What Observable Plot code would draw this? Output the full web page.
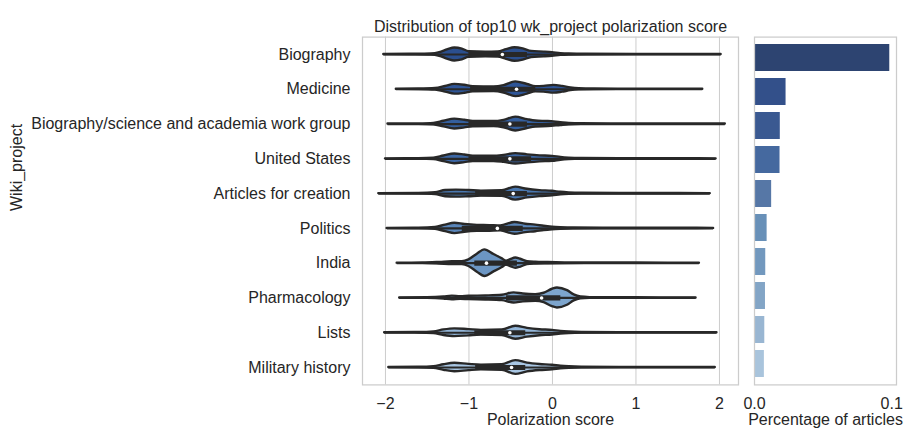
<!DOCTYPE html>
<html>
<head>
<meta charset="utf-8">
<script src="https://cdn.jsdelivr.net/npm/d3@7"></script>
<script src="https://cdn.jsdelivr.net/npm/@observablehq/plot@0.6"></script>
<style>
  html, body { margin: 0; padding: 0; background: white; }
  #chart { display: flex; width: 904px; height: 430px; }
  #chart svg { display: block; }
</style>
</head>
<body>
<div id="chart"></div>
<script>
// ---------- data ----------
const projects = ["Biography", "Medicine", "Biography/science and academia work group", "United States",
  "Articles for creation", "Politics", "India", "Pharmacology", "Lists", "Military history"];
const shares = [0.0986, 0.0230, 0.0188, 0.0186, 0.0125, 0.0092, 0.0082, 0.0080, 0.0075, 0.0072];
const medians = [-0.60, -0.43, -0.51, -0.51, -0.47, -0.66, -0.79, -0.13, -0.51, -0.49];
const q1s = [-1.00, -0.98, -1.00, -1.00, -0.92, -1.08, -0.93, -0.55, -0.93, -0.92];
const q3s = [-0.30, -0.20, -0.30, -0.25, -0.30, -0.35, -0.42, 0.10, -0.32, -0.32];
const mins = [-2.02, -1.87, -1.97, -2.00, -2.08, -1.98, -1.86, -1.83, -2.01, -1.96];
const maxs = [2.02, 1.80, 2.07, 1.96, 1.89, 1.93, 1.76, 1.72, 1.97, 1.95];
// violin density profiles: [score, density]
const violinKnots = [
  [[-2.02,0],[-1.7,0.2],[-1.45,0.5],[-1.35,1.8],[-1.25,4.9],[-1.17,6.5],[-1.08,5.4],[-1.0,2.8],[-0.8,2.4],[-0.65,2.6],[-0.55,4.8],[-0.45,6.8],[-0.35,5.6],[-0.25,3.1],[-0.1,2.4],[0.0,1.8],[0.1,0.9],[0.2,0.45],[0.4,0.2],[1.0,0.12],[1.6,0.12],[2.02,0]],
  [[-1.87,0],[-1.6,0.2],[-1.4,0.8],[-1.28,2.8],[-1.17,4.9],[-1.05,4.0],[-0.95,2.6],[-0.7,2.4],[-0.58,3.7],[-0.44,7.4],[-0.3,4.8],[-0.2,2.6],[-0.1,2.9],[0.02,3.9],[0.12,2.9],[0.22,1.4],[0.32,0.6],[0.5,0.25],[1.0,0.12],[1.5,0.12],[1.80,0]],
  [[-1.97,0],[-1.6,0.2],[-1.42,0.7],[-1.3,2.8],[-1.17,4.9],[-1.05,3.8],[-0.95,2.7],[-0.7,2.5],[-0.58,3.7],[-0.44,6.9],[-0.3,4.4],[-0.2,3.0],[-0.05,2.5],[0.1,1.4],[0.2,0.7],[0.35,0.3],[0.7,0.15],[1.5,0.12],[2.07,0]],
  [[-2.0,0],[-1.6,0.2],[-1.42,0.7],[-1.3,2.8],[-1.17,4.9],[-1.05,3.8],[-0.95,2.7],[-0.7,2.6],[-0.58,3.5],[-0.44,5.2],[-0.3,4.0],[-0.15,3.0],[0.0,2.5],[0.1,1.4],[0.2,0.7],[0.35,0.3],[0.8,0.15],[1.5,0.12],[1.96,0]],
  [[-2.08,0],[-1.6,0.2],[-1.4,1.0],[-1.28,3.1],[-1.15,3.5],[-1.0,3.1],[-0.85,2.5],[-0.6,2.8],[-0.44,6.5],[-0.3,4.3],[-0.15,3.0],[0.0,2.3],[0.1,1.3],[0.2,0.7],[0.35,0.3],[0.8,0.15],[1.5,0.12],[1.89,0]],
  [[-1.98,0],[-1.6,0.2],[-1.4,1.0],[-1.28,3.3],[-1.17,5.2],[-1.05,3.9],[-0.9,3.0],[-0.75,2.8],[-0.62,2.4],[-0.45,5.9],[-0.32,4.2],[-0.2,3.3],[-0.1,2.1],[0.0,1.3],[0.1,0.8],[0.25,0.35],[0.6,0.15],[1.5,0.12],[1.93,0]],
  [[-1.86,0],[-1.55,0.2],[-1.35,0.8],[-1.2,1.4],[-1.08,1.5],[-1.0,3.3],[-0.9,9.0],[-0.81,13.3],[-0.7,8.7],[-0.6,4.3],[-0.55,1.9],[-0.5,3.5],[-0.44,5.1],[-0.38,3.9],[-0.3,1.5],[-0.2,0.9],[-0.05,0.6],[0.15,0.3],[0.4,0.15],[1.0,0.12],[1.76,0]],
  [[-1.83,0],[-1.5,0.25],[-1.3,1.0],[-1.2,1.8],[-1.1,1.3],[-1.0,1.7],[-0.8,2.0],[-0.6,2.7],[-0.46,5.1],[-0.35,3.9],[-0.2,3.3],[-0.1,4.7],[0.0,8.7],[0.06,10.0],[0.18,7.3],[0.26,3.0],[0.34,0.9],[0.45,0.35],[0.7,0.15],[1.3,0.12],[1.72,0]],
  [[-2.01,0],[-1.6,0.2],[-1.42,0.8],[-1.3,2.8],[-1.17,3.9],[-1.0,3.1],[-0.85,2.4],[-0.6,2.8],[-0.44,6.5],[-0.3,4.4],[-0.15,3.0],[0.0,2.3],[0.1,1.3],[0.2,0.7],[0.35,0.3],[0.8,0.15],[1.5,0.12],[1.97,0]],
  [[-1.96,0],[-1.6,0.2],[-1.42,0.8],[-1.3,2.8],[-1.17,4.2],[-1.0,3.1],[-0.85,2.4],[-0.6,2.8],[-0.44,6.9],[-0.3,4.4],[-0.15,3.0],[0.0,2.3],[0.1,1.3],[0.2,0.7],[0.35,0.3],[0.8,0.15],[1.5,0.12],[1.95,0]]
];
const scoreTicks = [-2, -1, 0, 1, 2];
const shareTicks = [0, 0.1];
const violinColors = ["#2b4f8e", "#2e5597", "#345f9e", "#3c67a5", "#4977af", "#5985b9", "#6c96c3", "#7da5cd", "#93b6d9", "#a8c6e3"];
const barColors = ["#2d4471", "#33508a", "#3a5991", "#45699f", "#5677a6", "#6890b8", "#7298be", "#83a5c6", "#99b6d2", "#a9c4dc"];

// ---------- styles ----------
const FONT = "'Liberation Sans', Arial, 'DejaVu Sans', sans-serif";
const TEXT = "#262626";
const GRAY = "#282828";
const GRID = "#cccccc";
const densityUnit = 1 / 34.78; // y-units per density unit

const H = 430, MT = 36.6, MB = 45.6;
const idx = projects.map((_, i) => i);

const left = Plot.plot({
  width: 746, height: H,
  marginLeft: 362, marginRight: 8, marginTop: MT, marginBottom: MB,
  style: {fontFamily: FONT, fontSize: "16px", color: TEXT, background: "white", overflow: "visible"},
  x: {domain: [-2.275, 2.228], ticks: scoreTicks, tickFormat: d3.format("d"), tickSize: 0, tickPadding: 13, label: null},
  y: {domain: [9.5, -0.5], ticks: idx, tickFormat: i => projects[i], tickSize: 0, tickPadding: 12, label: null},
  marks: [
    Plot.ruleX(scoreTicks, {stroke: GRID, strokeWidth: 1}),
    ...violinKnots.map((knots, i) => Plot.areaY(knots, {
      x: d => d[0],
      y1: d => i - d[1] * densityUnit,
      y2: d => i + d[1] * densityUnit,
      fill: violinColors[i], stroke: GRAY, strokeWidth: 2.4, strokeLinejoin: "round", curve: "monotone-x"
    })),
    Plot.ruleY(idx, {y: i => i, x1: i => mins[i], x2: i => maxs[i], stroke: GRAY, strokeWidth: 2.2}),
    Plot.ruleY(idx, {y: i => i, x1: i => q1s[i], x2: i => q3s[i], stroke: GRAY, strokeWidth: 5.2}),
    Plot.dot(idx, {y: i => i, x: i => medians[i], r: 1.8, fill: "white", stroke: null}),
    Plot.frame({stroke: GRID, strokeWidth: 1.25}),
    Plot.text(["Distribution of top10 wk_project polarization score"], {frameAnchor: "top", dy: -16.6, text: d => d, fontSize: 16, fill: TEXT}),
    Plot.text(["Polarization score"], {frameAnchor: "bottom", dy: 40.5, text: d => d, fontSize: 16, fill: TEXT}),
    Plot.text(["Wiki_project"], {frameAnchor: "left", dx: -346, rotate: -90, text: d => d, fontSize: 16, fill: TEXT})
  ]
});

const right = Plot.plot({
  width: 158, height: H,
  marginLeft: 8, marginRight: 8, marginTop: MT, marginBottom: MB,
  style: {fontFamily: FONT, fontSize: "16px", color: TEXT, background: "white", overflow: "visible"},
  color: {type: "identity"},
  x: {domain: [0, 0.1035], ticks: shareTicks, tickFormat: d3.format(".1f"), tickSize: 0, tickPadding: 13, label: null},
  y: {domain: projects, paddingInner: 0.2, paddingOuter: 0.1, axis: null},
  marks: [
    Plot.barX(idx, {y: i => projects[i], x: i => shares[i], fill: i => barColors[i]}),
    Plot.frame({stroke: GRID, strokeWidth: 1.25}),
    Plot.text(["Percentage of articles"], {frameAnchor: "bottom", dy: 40.5, text: d => d, fontSize: 16, fill: TEXT})
  ]
});

document.getElementById("chart").append(left, right);
</script>
</body>
</html>
